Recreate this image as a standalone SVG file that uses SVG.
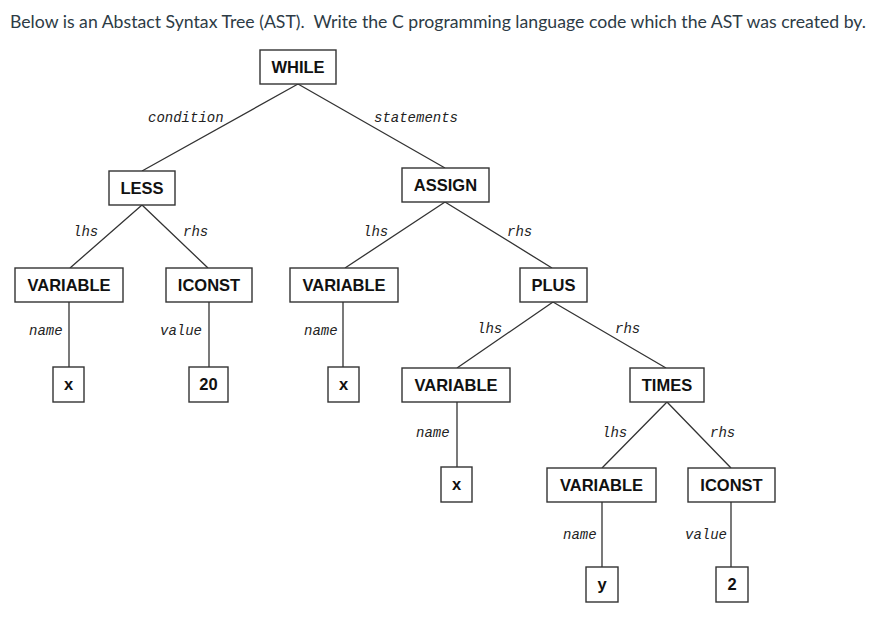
<svg xmlns="http://www.w3.org/2000/svg" width="881" height="618" viewBox="0 0 881 618">
<style>
.box{fill:#fff;stroke:#333;stroke-width:1.4}
.lbl{font-family:"Liberation Sans",Arial,sans-serif;font-weight:bold;font-size:16.5px;fill:#111;text-anchor:middle}
.edge{stroke:#333;stroke-width:1.3;fill:none}
.el{font-family:"Liberation Mono","Courier New",monospace;font-style:italic;font-size:14px;fill:#222}
.title{font-family:Lato,"Liberation Sans",sans-serif;font-size:16.5px;fill:#2d3b45;white-space:pre}
</style>
<rect width="881" height="618" fill="#fff"/>
<text class="title" xml:space="preserve" x="10" y="28" textLength="856" lengthAdjust="spacingAndGlyphs">Below is an Abstact Syntax Tree (AST).  Write the C programming language code which the AST was created by.</text>
<g id="connectors">
<path class="edge" d="M298,84L142,171M298,84L445,168M142,205L70,268M142,205L208,268M69,302V367M209,302V367M445,202L345,268M445,202L552,268M343,302V367M553,302L457,368M553,302L666,368M457,402V467M667,402L602,468M667,402L731,468M602,502V567M731,502V567"/>
<text class="el" x="148" y="122">condition</text>
<text class="el" x="374" y="122">statements</text>
<text class="el" x="73" y="236">lhs</text>
<text class="el" x="183" y="236">rhs</text>
<text class="el" x="363" y="236">lhs</text>
<text class="el" x="507" y="236">rhs</text>
<text class="el" x="29" y="335">name</text>
<text class="el" x="160" y="335">value</text>
<text class="el" x="304" y="335">name</text>
<text class="el" x="477" y="333">lhs</text>
<text class="el" x="615" y="333">rhs</text>
<text class="el" x="416" y="437">name</text>
<text class="el" x="602" y="437">lhs</text>
<text class="el" x="710" y="437">rhs</text>
<text class="el" x="563" y="539">name</text>
<text class="el" x="685" y="539">value</text>
</g>
<g id="while"><rect class="box" x="260" y="50" width="76" height="34"/><text class="lbl" x="298" y="73">WHILE</text></g>
<g id="less"><rect class="box" x="109" y="171" width="66" height="34"/><text class="lbl" x="142" y="194">LESS</text></g>
<g id="assign"><rect class="box" x="402" y="168" width="87" height="34"/><text class="lbl" x="445.5" y="191">ASSIGN</text></g>
<g id="var1"><rect class="box" x="15" y="268" width="108" height="34"/><text class="lbl" x="69" y="291">VARIABLE</text></g>
<g id="iconst1"><rect class="box" x="166" y="268" width="86" height="34"/><text class="lbl" x="209" y="291">ICONST</text></g>
<g id="var2"><rect class="box" x="290" y="268" width="108" height="34"/><text class="lbl" x="344" y="291">VARIABLE</text></g>
<g id="plus"><rect class="box" x="520" y="268" width="67" height="34"/><text class="lbl" x="553.5" y="291">PLUS</text></g>
<g id="x1"><rect class="box" x="53" y="367" width="31" height="35"/><text class="lbl" x="68.5" y="390">x</text></g>
<g id="c20"><rect class="box" x="189" y="367" width="39" height="35"/><text class="lbl" x="208.5" y="390">20</text></g>
<g id="x2"><rect class="box" x="328" y="367" width="31" height="35"/><text class="lbl" x="343.5" y="390">x</text></g>
<g id="var3"><rect class="box" x="402" y="368" width="108" height="34"/><text class="lbl" x="456" y="391">VARIABLE</text></g>
<g id="times"><rect class="box" x="630" y="368" width="74" height="34"/><text class="lbl" x="667" y="391">TIMES</text></g>
<g id="x3"><rect class="box" x="441" y="467" width="31" height="35"/><text class="lbl" x="456.5" y="490">x</text></g>
<g id="var4"><rect class="box" x="547" y="468" width="109" height="34"/><text class="lbl" x="601.5" y="491">VARIABLE</text></g>
<g id="iconst2"><rect class="box" x="688" y="468" width="87" height="34"/><text class="lbl" x="731.5" y="491">ICONST</text></g>
<g id="y"><rect class="box" x="586" y="567" width="32" height="35"/><text class="lbl" x="602" y="590">y</text></g>
<g id="c2"><rect class="box" x="716" y="567" width="32" height="35"/><text class="lbl" x="732" y="590">2</text></g>
</svg>
